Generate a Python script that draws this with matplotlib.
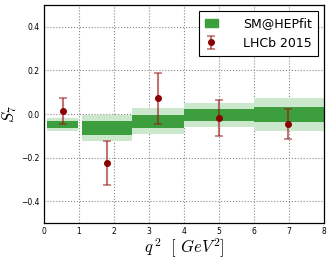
import matplotlib
matplotlib.use("Agg")
import matplotlib.pyplot as plt
import numpy as np
from matplotlib.patches import Patch

plt.rcParams['mathtext.fontset'] = 'cm'

bin_lo = [0.1, 1.1, 2.5, 4.0, 6.0]
bin_hi = [0.98, 2.5, 4.0, 6.0, 8.0]
sm_1s_lo = [-0.066, -0.095, -0.064, -0.034, -0.038]
sm_1s_hi = [-0.031, -0.034, -0.003, 0.023, 0.033]
sm_2s_lo = [-0.077, -0.122, -0.092, -0.058, -0.077]
sm_2s_hi = [-0.016, -0.003, 0.028, 0.050, 0.072]

exp_x = [0.54, 1.8, 3.25, 5.0, 6.97]
exp_y = [0.015, -0.224, 0.073, -0.016, -0.045]
exp_err_up = [0.059, 0.099, 0.116, 0.081, 0.066]
exp_err_dn = [0.059, 0.101, 0.118, 0.084, 0.070]

fig = plt.figure(figsize=(3.32, 2.60), dpi=100)
ax = fig.add_axes([0.1325, 0.142, 0.8435, 0.839])

light = '#cce8cc'
dark = '#3c9e3c'
for i in range(len(bin_lo)):
    ax.fill_between([bin_lo[i], bin_hi[i]], sm_2s_lo[i], sm_2s_hi[i], color=light, lw=0, zorder=1)
    ax.fill_between([bin_lo[i], bin_hi[i]], sm_1s_lo[i], sm_1s_hi[i], color=dark, lw=0, zorder=2)

eb = ax.errorbar(exp_x, exp_y, yerr=[exp_err_dn, exp_err_up], fmt='o', color='#8b0000',
                 ms=4, ecolor=(0.6, 0.1, 0.1, 0.6), elinewidth=1.5, capsize=3, capthick=1.2, zorder=4)

ax.set_xlim(0, 8)
ax.set_ylim(-0.5, 0.5)
ax.set_xticks(range(0, 9))
ax.set_yticks([-0.4, -0.2, 0.0, 0.2, 0.4])
ax.set_yticklabels(['\u22120.4', '\u22120.2', '0.0', '0.2', '0.4'])
ax.tick_params(labelsize=5.5, length=0, pad=3)
ax.grid(True, ls=':', color='#888888', lw=0.8, zorder=0)
ax.set_axisbelow(True)
for s in ax.spines.values():
    s.set_linewidth(0.9)

ax.set_xlabel(r'$q^{\,2}\ \ [\ GeV^{2}]$', fontsize=12, labelpad=0)
ax.set_ylabel(r'$S_7$', fontsize=12, labelpad=2)

handles = [Patch(color=dark), eb]
leg = ax.legend(handles, ['SM@HEPfit', 'LHCb 2015'], loc='upper right', fontsize=9,
                fancybox=False, framealpha=1, edgecolor='black', borderaxespad=0.5,
                handlelength=1.0, handletextpad=2.0, borderpad=0.5, labelspacing=0.5)
leg.get_frame().set_linewidth(0.8)

fig.savefig('out.png', dpi=100)
